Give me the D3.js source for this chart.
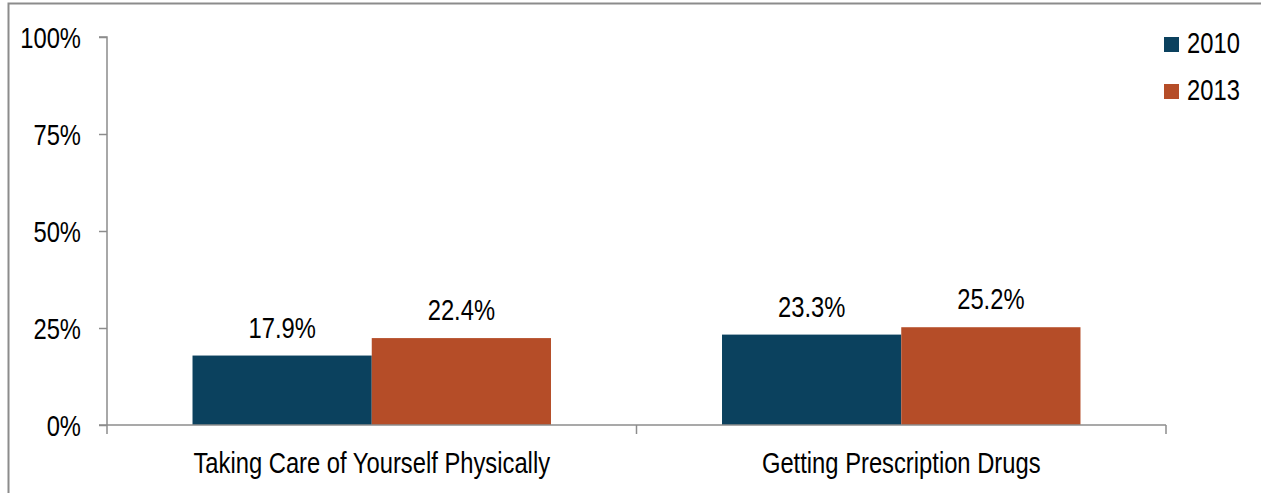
<!DOCTYPE html>
<html><head><meta charset="utf-8">
<script src="https://cdn.jsdelivr.net/npm/d3@7"></script>
<style>
html,body{margin:0;padding:0;background:#fff;}
svg text{font-family:"Liberation Sans Narrow","Arial Narrow","Liberation Sans",Arial,sans-serif;fill:#000;}
</style></head>
<body>
<svg id="c" width="1261" height="493"></svg>
<script>
const categories = ["Taking Care of Yourself Physically", "Getting Prescription Drugs"];
const seriesNames = ["2010", "2013"];
const values2010 = [17.9, 23.3];
const values2013 = [22.4, 25.2];
const yTicks = [0, 25, 50, 75, 100];
const colors = ["#0B415E", "#B54D28"];

(function () {
const FS = 29, SX = 0.82;
const svg = d3.select("#c");
const mLeft = 107, mRight = 1166, mTop = 37, mBottom = 425;

// place narrow text: anchor point (x,y), horizontal squeeze around the anchor
function narrow(sel, fx, fy) {
  sel.attr("x", 0).attr("y", 0).attr("font-size", FS)
    .attr("transform", (d, i) => `translate(${fx(d, i)},${fy(d, i)}) scale(${SX},1)`);
}

svg.append("rect").attr("x", 8.5).attr("y", 3.5).attr("width", 1270).attr("height", 520)
  .attr("fill", "none").attr("stroke", "#8c8c8c").attr("stroke-width", 2);

const y = d3.scaleLinear().domain([0, 100]).range([mBottom, mTop]);
const x0 = d3.scaleBand().domain(categories).range([mLeft, mRight]).paddingInner(0.323).paddingOuter(0.1615);
const x1 = d3.scaleBand().domain(seriesNames).range([0, x0.bandwidth()]);

const series = seriesNames.map((s, i) => ({name: s, values: i === 0 ? values2010 : values2013, color: colors[i]}));

series.forEach(s => {
  svg.append("g").selectAll("rect").data(categories).join("rect")
    .attr("x", c => x0(c) + x1(s.name))
    .attr("y", (c, i) => y(s.values[i]))
    .attr("width", x1.bandwidth())
    .attr("height", (c, i) => y(0) - y(s.values[i]))
    .attr("fill", s.color);
  svg.append("g").selectAll("text").data(categories).join("text")
    .attr("text-anchor", "middle")
    .text((c, i) => s.values[i].toFixed(1) + "%")
    .call(narrow, c => x0(c) + x1(s.name) + x1.bandwidth() / 2, (c, i) => y(s.values[i]) - 18);
});

const yAxis = svg.append("g").attr("transform", `translate(${mLeft},0)`)
  .call(d3.axisLeft(y).tickValues(yTicks).tickSize(8).tickFormat(d => d + "%"));
yAxis.select(".domain").attr("stroke", "#8c8c8c").attr("stroke-width", 1.5).attr("d", `M-8,${mTop}H0V${mBottom}`);
yAxis.selectAll(".tick line").attr("stroke", "#8c8c8c").attr("stroke-width", 1.5);
yAxis.selectAll(".tick text").attr("font-family", null).attr("fill", "#000").attr("dy", null)
  .attr("text-anchor", "end")
  .call(narrow, () => -26, () => 10);

const boundaries = [mLeft].concat(categories.map(c => x0(c) + x0.bandwidth() + x0.step() * x0.paddingInner() / 2));
boundaries[boundaries.length - 1] = mRight;
const xg = svg.append("g");
xg.append("line").attr("x1", mLeft - 8).attr("x2", mRight).attr("y1", mBottom).attr("y2", mBottom)
  .attr("stroke", "#8c8c8c").attr("stroke-width", 1.5);
xg.selectAll("line.t").data(boundaries).join("line").attr("class", "t")
  .attr("x1", d => d).attr("x2", d => d).attr("y1", mBottom).attr("y2", mBottom + 9)
  .attr("stroke", "#8c8c8c").attr("stroke-width", 1.5);
xg.selectAll("text").data(categories).join("text")
  .attr("text-anchor", "middle")
  .text(c => c)
  .call(narrow, c => x0(c) + x0.bandwidth() / 2, () => 473);

const lg = svg.append("g").attr("transform", "translate(1164,37)");
series.forEach((s, i) => {
  lg.append("rect").attr("x", 0).attr("y", i * 47).attr("width", 15).attr("height", 15).attr("fill", s.color);
  lg.append("text").datum(s).attr("text-anchor", "start").text(s.name)
    .call(narrow, () => 23, () => i * 47 + 16);
});
})();
</script>
</body></html>
